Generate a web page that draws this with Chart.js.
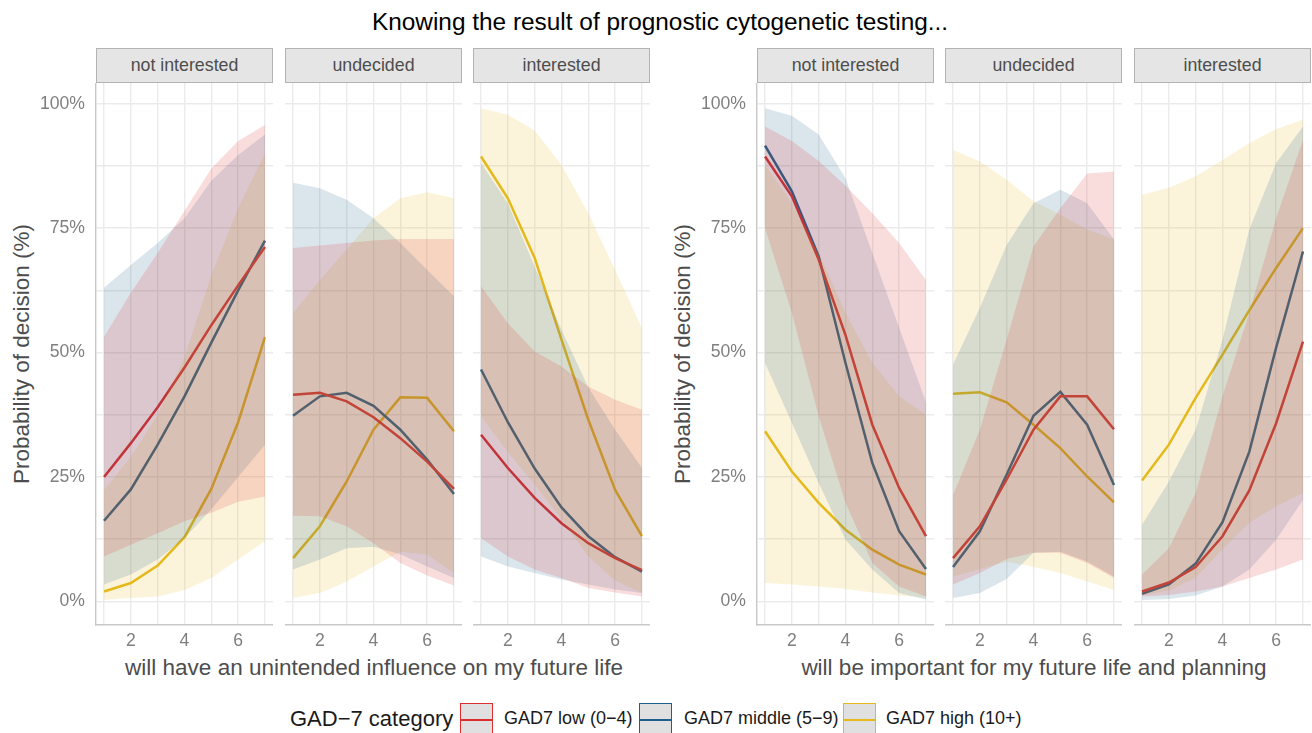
<!DOCTYPE html>
<html>
<head>
<meta charset="utf-8">
<script src="https://cdn.jsdelivr.net/npm/chart.js@4.4.1/dist/chart.umd.min.js"></script>
<style>
  body { margin: 0; background: #fff; width: 1312px; height: 733px; position: relative; overflow: hidden;
         font-family: "Liberation Sans", Arial, sans-serif; }
  .txt { position: absolute; white-space: nowrap; }
  .strip { position: absolute; top: 48px; height: 35px; box-sizing: border-box; background: #e5e5e5;
           border: 1px solid #b3b3b3; color: #4d4d4d; font-size: 17.8px; line-height: 33px; text-align: center; }
  canvas { position: absolute; }
  .key { position: absolute; top: 703px; width: 33px; height: 34px; box-sizing: border-box; background: #e0e0e0; border: 1.5px solid; }
  .key i { position: absolute; left: 0; right: 0; top: 14.5px; height: 2.5px; }
  .lab { top: 708px; font-size: 18px; color: #1a1a1a; }
</style>
</head>
<body>
<div class="txt" style="left:360px;width:600px;top:8px;text-align:center;font-size:24.4px;color:#000;">Knowing the result of prognostic cytogenetic testing...</div>

<div class="txt" style="left:-178px;top:341px;width:400px;text-align:center;font-size:22.5px;color:#4d4d4d;transform:rotate(-90deg);">Probability of decision (%)</div>
<div class="txt" style="left:483px;top:341px;width:400px;text-align:center;font-size:22.5px;color:#4d4d4d;transform:rotate(-90deg);">Probability of decision (%)</div>

<div class="txt" style="left:74px;width:600px;top:655px;text-align:center;font-size:22.5px;color:#4d4d4d;">will have an unintended influence on my future life</div>
<div class="txt" style="left:734px;width:600px;top:655px;text-align:center;font-size:22.5px;color:#4d4d4d;">will be important for my future life and planning</div>

<div id="strips"></div>
<div id="panels"></div>

<div class="txt" style="left:290px;top:706px;font-size:22px;color:#1a1a1a;">GAD−7 category</div>
<div class="key" style="left:460px;border-color:#dc2e2e;"><i style="background:#dc2e2e"></i></div>
<div class="txt lab" style="left:504px;">GAD7 low (0−4)</div>
<div class="key" style="left:639px;border-color:#1f5f8b;"><i style="background:#1f5f8b"></i></div>
<div class="txt lab" style="left:684px;">GAD7 middle (5−9)</div>
<div class="key" style="left:843px;border-color:#e5b81c;"><i style="background:#e5b81c"></i></div>
<div class="txt lab" style="left:886px;">GAD7 high (10+)</div>

<script>
const xs = [1, 2, 3, 4, 5, 6, 7];
const facets = ['not interested', 'undecided', 'interested'];

// --- "will have an unintended influence on my future life" ---
// not interested
const infNotLow = [0.25, 0.318, 0.39, 0.47, 0.555, 0.635, 0.712];
const infNotLowLo = [0.09, 0.114, 0.137, 0.161, 0.178, 0.20, 0.211];
const infNotLowHi = [0.532, 0.62, 0.70, 0.785, 0.87, 0.925, 0.957];
const infNotMid = [0.162, 0.225, 0.315, 0.412, 0.52, 0.625, 0.725];
const infNotMidLo = [0.034, 0.054, 0.084, 0.127, 0.185, 0.25, 0.315];
const infNotMidHi = [0.63, 0.676, 0.72, 0.77, 0.845, 0.897, 0.938];
const infNotHigh = [0.02, 0.037, 0.072, 0.129, 0.226, 0.36, 0.531];
const infNotHighLo = [0.003, 0.007, 0.01, 0.023, 0.047, 0.084, 0.121];
const infNotHighHi = [0.224, 0.29, 0.375, 0.49, 0.655, 0.79, 0.90];
// undecided
const infUndLow = [0.415, 0.419, 0.402, 0.37, 0.328, 0.281, 0.226];
const infUndLowLo = [0.172, 0.171, 0.151, 0.117, 0.077, 0.052, 0.032];
const infUndLowHi = [0.71, 0.715, 0.72, 0.725, 0.728, 0.728, 0.728];
const infUndMid = [0.373, 0.412, 0.419, 0.393, 0.345, 0.285, 0.216];
const infUndMidLo = [0.064, 0.084, 0.107, 0.11, 0.095, 0.07, 0.047];
const infUndMidHi = [0.841, 0.83, 0.807, 0.77, 0.72, 0.666, 0.613];
const infUndHigh = [0.087, 0.151, 0.241, 0.345, 0.41, 0.409, 0.342];
const infUndHighLo = [0.007, 0.017, 0.04, 0.07, 0.10, 0.094, 0.057];
const infUndHighHi = [0.579, 0.646, 0.707, 0.77, 0.81, 0.822, 0.81];
// interested
const infIntLow = [0.335, 0.268, 0.208, 0.157, 0.117, 0.087, 0.063];
const infIntLowLo = [0.127, 0.09, 0.064, 0.047, 0.027, 0.018, 0.01];
const infIntLowHi = [0.633, 0.559, 0.502, 0.472, 0.432, 0.405, 0.385];
const infIntMid = [0.466, 0.36, 0.267, 0.189, 0.131, 0.089, 0.06];
const infIntMidLo = [0.09, 0.07, 0.057, 0.044, 0.034, 0.024, 0.017];
const infIntMidHi = [0.881, 0.80, 0.673, 0.546, 0.43, 0.345, 0.268];
const infIntHigh = [0.894, 0.81, 0.69, 0.526, 0.365, 0.224, 0.131];
const infIntHighLo = [0.372, 0.30, 0.235, 0.165, 0.09, 0.042, 0.017];
const infIntHighHi = [0.991, 0.978, 0.946, 0.877, 0.78, 0.666, 0.549];

// --- "will be important for my future life and planning" ---
// not interested
const impNotLow = [0.894, 0.814, 0.687, 0.535, 0.355, 0.228, 0.131];
const impNotLowLo = [0.75, 0.58, 0.372, 0.198, 0.077, 0.03, 0.01];
const impNotLowHi = [0.954, 0.925, 0.885, 0.835, 0.78, 0.72, 0.646];
const impNotMid = [0.916, 0.824, 0.693, 0.479, 0.278, 0.141, 0.065];
const impNotMidLo = [0.479, 0.359, 0.238, 0.124, 0.064, 0.017, 0.004];
const impNotMidHi = [0.991, 0.976, 0.938, 0.85, 0.70, 0.55, 0.40];
const impNotHigh = [0.342, 0.261, 0.198, 0.144, 0.104, 0.074, 0.054];
const impNotHighLo = [0.037, 0.034, 0.03, 0.025, 0.018, 0.012, 0.008];
const impNotHighHi = [0.877, 0.80, 0.70, 0.58, 0.479, 0.412, 0.375];
// undecided
const impUndLow = [0.087, 0.151, 0.245, 0.345, 0.412, 0.412, 0.346];
const impUndLowLo = [0.034, 0.057, 0.085, 0.098, 0.098, 0.077, 0.047];
const impUndLowHi = [0.214, 0.345, 0.526, 0.713, 0.79, 0.86, 0.864];
const impUndMid = [0.069, 0.141, 0.255, 0.373, 0.421, 0.355, 0.234];
const impUndMidLo = [0.007, 0.017, 0.045, 0.098, 0.10, 0.08, 0.05];
const impUndMidHi = [0.476, 0.59, 0.716, 0.80, 0.827, 0.80, 0.727];
const impUndHigh = [0.417, 0.42, 0.40, 0.355, 0.308, 0.251, 0.199];
const impUndHighLo = [0.05, 0.065, 0.08, 0.069, 0.057, 0.04, 0.023];
const impUndHighHi = [0.907, 0.884, 0.847, 0.804, 0.777, 0.747, 0.727];
// interested
const impIntLow = [0.02, 0.038, 0.069, 0.131, 0.223, 0.358, 0.522];
const impIntLowLo = [0.01, 0.013, 0.02, 0.03, 0.047, 0.064, 0.084];
const impIntLowHi = [0.054, 0.107, 0.218, 0.412, 0.58, 0.77, 0.927];
const impIntMid = [0.015, 0.034, 0.076, 0.159, 0.301, 0.51, 0.703];
const impIntMidLo = [0.003, 0.005, 0.012, 0.03, 0.064, 0.124, 0.204];
const impIntMidHi = [0.154, 0.241, 0.345, 0.526, 0.747, 0.881, 0.954];
const impIntHigh = [0.243, 0.315, 0.409, 0.496, 0.585, 0.67, 0.75];
const impIntHighLo = [0.012, 0.022, 0.048, 0.105, 0.158, 0.191, 0.218];
const impIntHighHi = [0.817, 0.831, 0.854, 0.887, 0.921, 0.949, 0.968];

const yTicks = [0, 0.125, 0.25, 0.375, 0.5, 0.625, 0.75, 0.875, 1];

const RED = '#dc2e2e', BLUE = '#1f5f8b', YELLOW = '#e5b81c';
const ALPHA = 0.16;

function rgba(hex, a) {
  const n = parseInt(hex.slice(1), 16);
  return `rgba(${n >> 16},${(n >> 8) & 255},${n & 255},${a})`;
}

const panels = [
  { left: 96,  first: true,  facet: 0, groups: [[infNotLow, infNotLowLo, infNotLowHi], [infNotMid, infNotMidLo, infNotMidHi], [infNotHigh, infNotHighLo, infNotHighHi]] },
  { left: 285, first: false, facet: 1, groups: [[infUndLow, infUndLowLo, infUndLowHi], [infUndMid, infUndMidLo, infUndMidHi], [infUndHigh, infUndHighLo, infUndHighHi]] },
  { left: 473, first: false, facet: 2, groups: [[infIntLow, infIntLowLo, infIntLowHi], [infIntMid, infIntMidLo, infIntMidHi], [infIntHigh, infIntHighLo, infIntHighHi]] },
  { left: 757, first: true,  facet: 0, groups: [[impNotLow, impNotLowLo, impNotLowHi], [impNotMid, impNotMidLo, impNotMidHi], [impNotHigh, impNotHighLo, impNotHighHi]] },
  { left: 945, first: false, facet: 1, groups: [[impUndLow, impUndLowLo, impUndLowHi], [impUndMid, impUndMidLo, impUndMidHi], [impUndHigh, impUndHighLo, impUndHighHi]] },
  { left: 1134,first: false, facet: 2, groups: [[impIntLow, impIntLowLo, impIntLowHi], [impIntMid, impIntMidLo, impIntMidHi], [impIntHigh, impIntHighLo, impIntHighHi]] }
];
const colors = [RED, BLUE, YELLOW];

const PW = 177, PH = 542, TOP = 83, XH = 30, YW = 60;

function pts(arr) { return arr.map((v, i) => ({ x: xs[i], y: v })); }

panels.forEach(p => {
  const strip = document.createElement('div');
  strip.className = 'strip';
  strip.style.left = p.left + 'px';
  strip.style.width = PW + 'px';
  strip.textContent = facets[p.facet];
  document.getElementById('strips').appendChild(strip);

  const yw = p.first ? YW : 0;
  const cv = document.createElement('canvas');
  cv.width = PW + yw; cv.height = PH + XH;
  cv.style.left = (p.left - yw) + 'px';
  cv.style.top = TOP + 'px';
  cv.style.width = cv.width + 'px'; cv.style.height = cv.height + 'px';
  document.getElementById('panels').appendChild(cv);

  const datasets = [];
  // ribbons sit above the lines, as in the original
  p.groups.forEach((g, i) => {
    datasets.push({ data: pts(g[2]), borderWidth: 0, borderColor: 'transparent', pointRadius: 0,
                    fill: '+1', backgroundColor: rgba(colors[i], ALPHA), order: i });
    datasets.push({ data: pts(g[1]), borderWidth: 0, borderColor: 'transparent', pointRadius: 0,
                    fill: false, order: i });
  });
  p.groups.forEach((g, i) => {
    datasets.push({ data: pts(g[0]), borderWidth: 2.5, borderColor: colors[i], pointRadius: 0,
                    fill: false, tension: 0, order: 10 + i });
  });

  new Chart(cv, {
    type: 'line',
    data: { datasets },
    options: {
      responsive: false, animation: false, devicePixelRatio: 1,
      layout: { padding: 0 },
      plugins: { legend: { display: false }, tooltip: { enabled: false } },
      scales: {
        x: {
          type: 'linear', min: 0.7, max: 7.3,
          afterBuildTicks: s => { s.ticks = xs.map(v => ({ value: v })); },
          ticks: { autoSkip: false, maxRotation: 0, padding: 6, color: '#7f7f7f',
                   font: { family: 'Liberation Sans', size: 17.6 },
                   callback: v => (v % 2 === 0 ? String(v) : '') },
          grid: { color: '#ebebeb', lineWidth: 1.4, drawTicks: false },
          border: { display: true, color: '#c8c8c8', width: 1.4 },
          afterFit: s => { s.height = XH; s.paddingLeft = 0; s.paddingRight = 0; }
        },
        y: {
          type: 'linear', min: -0.0474, max: 1.0416,
          afterBuildTicks: s => { s.ticks = yTicks.map(v => ({ value: v })); },
          ticks: { display: p.first, autoSkip: false, padding: 11, color: '#7f7f7f',
                   font: { family: 'Liberation Sans', size: 17.6 },
                   callback: v => (Math.round(v * 1000) % 250 === 0 ? Math.round(v * 100) + '%' : '') },
          grid: { color: '#ebebeb', lineWidth: 1.4, drawTicks: false },
          border: { display: p.first, color: '#c8c8c8', width: 1.4 },
          afterFit: s => { s.width = yw; s.paddingTop = 0; s.paddingBottom = 0; }
        }
      }
    }
  });
});
</script>
</body>
</html>
